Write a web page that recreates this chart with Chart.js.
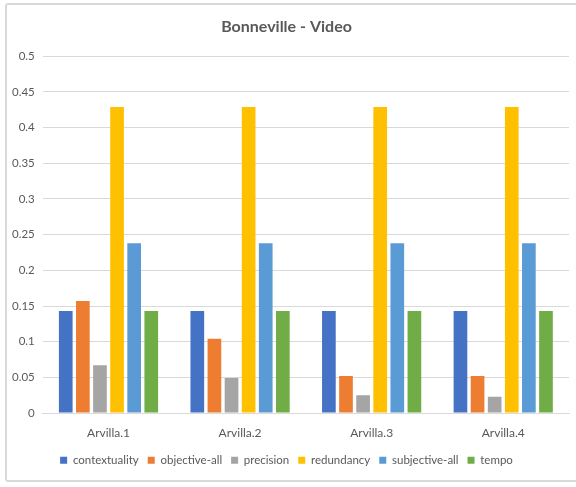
<!DOCTYPE html>
<html>
<head>
<meta charset="utf-8">
<script src="https://cdn.jsdelivr.net/npm/chart.js@4"></script>
<style>
    html, body { margin: 0; padding: 0; background: #fff; }
    .wrap { position: relative; width: 576px; height: 487px; overflow: hidden; }
    .frame {
        position: absolute; left: 5px; top: 3px; width: 580px; height: 479px;
        border: 2px solid #d9d9d9; border-radius: 3px; box-sizing: border-box;
    }
    canvas { position: absolute; left: 0; top: 0; }
</style>
</head>
<body>
<div class="wrap">
    <div class="frame"></div>
    <canvas id="chart" width="576" height="487"></canvas>
</div>
<script>
// Data
const categories = ['Arvilla.1', 'Arvilla.2', 'Arvilla.3', 'Arvilla.4'];
const contextuality = [0.143, 0.143, 0.143, 0.143];
const objectiveAll = [0.157, 0.104, 0.052, 0.052];
const precision = [0.067, 0.049, 0.025, 0.023];
const redundancy = [0.429, 0.429, 0.429, 0.429];
const subjectiveAll = [0.238, 0.238, 0.238, 0.238];
const tempo = [0.143, 0.143, 0.143, 0.143];

const seriesNames = ['contextuality', 'objective-all', 'precision', 'redundancy', 'subjective-all', 'tempo'];
const seriesData = [contextuality, objectiveAll, precision, redundancy, subjectiveAll, tempo];
const seriesColors = ['#4472c4', '#ed7d31', '#a5a5a5', '#ffc000', '#5b9bd5', '#70ad47'];

const font = "Lato, 'Open Sans', sans-serif";
const textColor = '#595959';

new Chart(document.getElementById('chart'), {
    type: 'bar',
    data: {
        labels: categories,
        datasets: seriesNames.map((name, i) => ({
            label: name,
            data: seriesData[i],
            backgroundColor: seriesColors[i],
            borderWidth: 0,
            barPercentage: 0.8,
            categoryPercentage: 0.78
        }))
    },
    options: {
        responsive: false,
        animation: false,
        layout: { padding: { left: 4, right: 7, top: 6, bottom: 11 } },
        plugins: {
            title: {
                display: true,
                text: 'Bonneville - Video',
                color: textColor,
                font: { family: font, size: 16, weight: 'bold' },
                padding: { top: 11, bottom: 20 }
            },
            legend: {
                position: 'bottom',
                labels: {
                    color: textColor,
                    font: { family: font, size: 11.5 },
                    boxWidth: 7,
                    boxHeight: 7,
                    padding: 9
                }
            },
            tooltip: { enabled: false }
        },
        scales: {
            x: {
                grid: { display: false },
                border: { color: '#d9d9d9' },
                ticks: { color: textColor, font: { family: font, size: 12 }, padding: 5 }
            },
            y: {
                min: 0,
                max: 0.5,
                ticks: {
                    stepSize: 0.05,
                    color: textColor,
                    font: { family: font, size: 11.5 },
                    padding: 8,
                    callback: v => String(Number(v.toFixed(2)))
                },
                grid: { color: '#d9d9d9', drawTicks: false },
                border: { display: false }
            }
        }
    }
});
</script>
</body>
</html>
